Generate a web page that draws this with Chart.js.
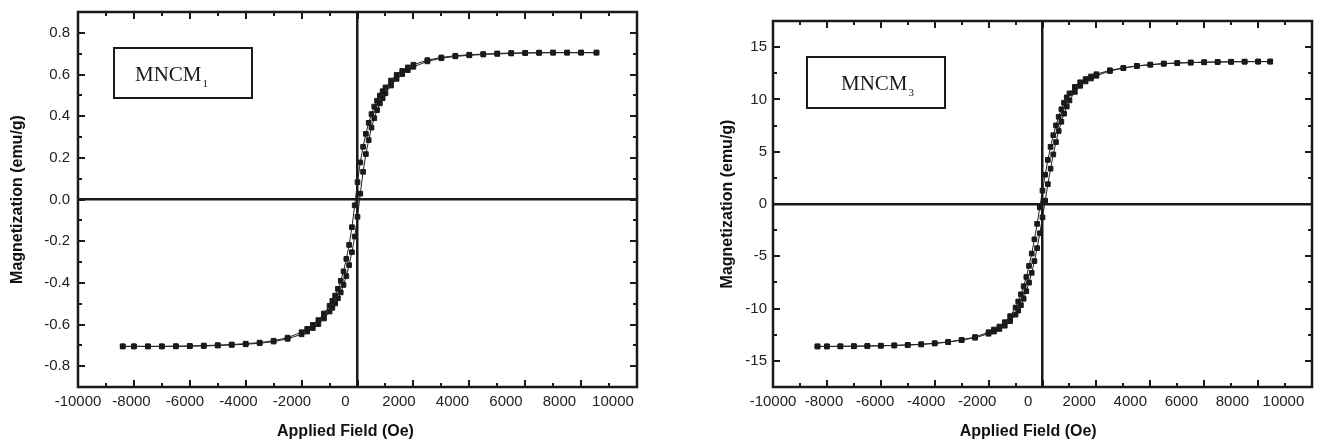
<!DOCTYPE html>
<html>
<head>
<meta charset="utf-8">
<script src="https://cdn.jsdelivr.net/npm/chart.js@4.4.1/dist/chart.umd.min.js"></script>
<style>
  html, body { margin: 0; padding: 0; background: #fff; }
  #wrap { position: relative; width: 1317px; height: 443px; }
  .box { position: absolute; top: 0; height: 443px; }
  #left { left: 0; width: 660px; }
  #right { left: 660px; width: 657px; }
</style>
</head>
<body>
<div id="wrap">
  <div class="box" id="left"><canvas id="chartLeft"></canvas></div>
  <div class="box" id="right"><canvas id="chartRight"></canvas></div>
</div>
<script>
// tick labels
const xLabels = [-10000, -8000, -6000, -4000, -2000, 0, 2000, 4000, 6000, 8000, 10000];
const yLabelsLeft = [-0.8, -0.6, -0.4, -0.2, 0, 0.2, 0.4, 0.6, 0.8];
const yLabelsRight = [-15, -10, -5, 0, 5, 10, 15];

// MNCM1 : applied field (Oe) and magnetization (emu/g) of both loop branches
const fieldLeft = [-8400, -8000, -7500, -7000, -6500, -6000, -5500, -5000, -4500, -4000, -3500, -3000, -2500, -2000,
  -1800, -1600, -1400, -1200,
  -1000, -900, -800, -700, -600, -500, -400, -300, -200, -100, 0, 100, 200, 300, 400, 500, 600, 700, 800, 900, 1000,
  1200, 1400, 1600, 1800,
  2000, 2500, 3000, 3500, 4000, 4500, 5000, 5500, 6000, 6500, 7000, 7500, 8000, 8550];
const descLeft = [-0.705, -0.705, -0.705, -0.705, -0.704, -0.703, -0.701, -0.699, -0.696, -0.692, -0.687, -0.678, -0.663, -0.637,
  -0.621, -0.602, -0.579, -0.547,
  -0.510, -0.486, -0.461, -0.429, -0.390, -0.345, -0.285, -0.218, -0.133, -0.028, 0.083, 0.178, 0.253, 0.315, 0.368, 0.410, 0.446, 0.474, 0.499, 0.520, 0.538,
  0.571, 0.598, 0.617, 0.634,
  0.647, 0.669, 0.682, 0.690, 0.695, 0.698, 0.701, 0.703, 0.704, 0.705, 0.705, 0.705, 0.705, 0.705];
const ascLeft = [-0.705, -0.705, -0.705, -0.705, -0.705, -0.704, -0.703, -0.701, -0.698, -0.695, -0.690, -0.682, -0.669, -0.647,
  -0.634, -0.617, -0.598, -0.571,
  -0.538, -0.520, -0.499, -0.474, -0.446, -0.410, -0.368, -0.315, -0.253, -0.178, -0.083, 0.028, 0.133, 0.218, 0.285, 0.345, 0.390, 0.429, 0.461, 0.486, 0.510,
  0.547, 0.579, 0.602, 0.621,
  0.637, 0.663, 0.678, 0.687, 0.692, 0.696, 0.699, 0.701, 0.703, 0.704, 0.705, 0.705, 0.705, 0.705];

// MNCM3
const fieldRight = [-8350, -8000, -7500, -7000, -6500, -6000, -5500, -5000, -4500, -4000, -3500, -3000, -2500, -2000,
  -1800, -1600, -1400, -1200,
  -1000, -900, -800, -700, -600, -500, -400, -300, -200, -100, 0, 100, 200, 300, 400, 500, 600, 700, 800, 900, 1000,
  1200, 1400, 1600, 1800,
  2000, 2500, 3000, 3500, 4000, 4500, 5000, 5500, 6000, 6500, 7000, 7500, 8000, 8450];
const descRight = [-13.62, -13.62, -13.61, -13.60, -13.58, -13.55, -13.52, -13.47, -13.41, -13.32, -13.19, -12.99, -12.72, -12.26,
  -12.00, -11.72, -11.30, -10.72,
  -9.90, -9.32, -8.64, -7.86, -6.98, -5.92, -4.74, -3.38, -1.90, -0.32, 1.28, 2.80, 4.22, 5.46, 6.58, 7.52, 8.34, 9.06, 9.68, 10.20, 10.58,
  11.20, 11.64, 11.95, 12.20,
  12.41, 12.79, 13.02, 13.21, 13.33, 13.43, 13.49, 13.53, 13.56, 13.58, 13.60, 13.61, 13.62, 13.62];
const ascRight = [-13.62, -13.62, -13.61, -13.60, -13.58, -13.56, -13.53, -13.49, -13.43, -13.33, -13.21, -13.02, -12.79, -12.41,
  -12.20, -11.95, -11.64, -11.20,
  -10.58, -10.20, -9.68, -9.06, -8.34, -7.52, -6.58, -5.46, -4.22, -2.80, -1.28, 0.32, 1.90, 3.38, 4.74, 5.92, 6.98, 7.86, 8.64, 9.32, 9.90,
  10.72, 11.30, 11.72, 12.00,
  12.26, 12.72, 12.99, 13.19, 13.32, 13.41, 13.47, 13.52, 13.55, 13.58, 13.60, 13.61, 13.62, 13.62];

const FONT = "'Liberation Sans', Arial, sans-serif";
Chart.defaults.font.family = FONT;
Chart.defaults.color = '#222';

const INK = '#1a1a1a';

// frame, inward tick marks on all four sides, x labels/title and the sample label box
const frameTicks = {
  id: 'frameTicks',
  afterDatasetsDraw(chart, args, opts) {
    const { ctx, chartArea: a, scales: { x, y } } = chart;
    ctx.save();
    ctx.strokeStyle = INK;
    ctx.lineWidth = 2;
    ctx.beginPath();
    x.ticks.forEach(t => {
      const px = Math.round(x.getPixelForValue(t.value));
      const len = opts.xMajor(t.value) ? 7 : 4;
      ctx.moveTo(px, a.bottom); ctx.lineTo(px, a.bottom - len);
      ctx.moveTo(px, a.top); ctx.lineTo(px, a.top + len);
    });
    y.ticks.forEach(t => {
      const py = Math.round(y.getPixelForValue(t.value));
      const len = opts.yMajor(t.value) ? 7 : 4;
      ctx.moveTo(a.left, py); ctx.lineTo(a.left + len, py);
      ctx.moveTo(a.right, py); ctx.lineTo(a.right - len, py);
    });
    ctx.stroke();
    ctx.lineWidth = 2.5;
    ctx.strokeRect(a.left, a.top, a.right - a.left, a.bottom - a.top);

    // x tick labels: the original figure sets them on a slightly narrower row than the ticks
    const k = opts.labelSpread;
    const labelX = v => a.left + (x.getPixelForValue(v) - a.left) * k;
    ctx.font = '15px ' + FONT;
    ctx.fillStyle = '#222';
    ctx.textAlign = 'center';
    ctx.textBaseline = 'middle';
    xLabels.forEach(v => ctx.fillText(String(v), labelX(v), a.bottom + 15));
    ctx.font = 'bold 16px ' + FONT;
    ctx.fillStyle = '#111';
    ctx.fillText('Applied Field (Oe)', (labelX(x.min) + labelX(x.max)) / 2, a.bottom + 45);

    // sample name box
    const b = opts.box;
    const bx = a.left + b.dx, by = a.top + b.dy;
    ctx.lineWidth = 2;
    ctx.strokeRect(bx, by, b.w, b.h);
    ctx.fillStyle = INK;
    ctx.textAlign = 'left';
    ctx.textBaseline = 'alphabetic';
    ctx.font = "21px 'Liberation Serif', 'Times New Roman', serif";
    ctx.fillText(opts.name, bx + b.tx, by + 33);
    const w = ctx.measureText(opts.name).width;
    ctx.font = "11px 'Liberation Serif', 'Times New Roman', serif";
    ctx.fillText(opts.sub, bx + b.tx + w + 1, by + 39);
    ctx.restore();
  }
};

const zeroLine = {
  drawTicks: false,
  lineWidth: 2.5,
  color: c => (c.tick && Math.abs(c.tick.value) < 1e-9) ? INK : 'rgba(0,0,0,0)'
};

// keep the plot box where the layout padding puts it
function noEdgePadding(s) {
  s.paddingLeft = 0; s.paddingRight = 0; s.paddingTop = 0; s.paddingBottom = 0;
}

function branch(field, m) {
  return {
    data: field.map((h, i) => ({ x: h, y: m[i] })),
    showLine: true,
    borderColor: '#222',
    borderWidth: 1,
    pointStyle: 'rect',
    pointRadius: 3.3,
    pointBackgroundColor: INK,
    pointBorderColor: INK,
    pointBorderWidth: 1,
    tension: 0
  };
}

function makeChart(id, cfg) {
  return new Chart(document.getElementById(id), {
    type: 'scatter',
    data: { datasets: [branch(cfg.field, cfg.desc), branch(cfg.field, cfg.asc)] },
    options: {
      responsive: true,
      maintainAspectRatio: false,
      animation: false,
      layout: { padding: cfg.padding },
      plugins: {
        legend: { display: false },
        tooltip: { enabled: false },
        frameTicks: {
          name: 'MNCM', sub: cfg.sub, box: cfg.box, labelSpread: cfg.labelSpread,
          xMajor: v => Math.round(v / 1000) % 2 === 0,
          yMajor: cfg.yMajor
        }
      },
      scales: {
        x: {
          type: 'linear', min: -10000, max: 10000,
          border: { display: false },
          grid: zeroLine,
          ticks: { display: false, stepSize: 1000, autoSkip: false },
          afterFit: s => { s.height = 56; noEdgePadding(s); }
        },
        y: {
          type: 'linear', min: cfg.yMin, max: cfg.yMax,
          border: { display: false },
          grid: zeroLine,
          ticks: {
            stepSize: cfg.yStep, autoSkip: false, padding: cfg.yPad,
            font: { size: 15 }, color: '#222',
            callback: cfg.yLabel
          },
          title: {
            display: true, text: 'Magnetization (emu/g)', color: '#111',
            font: { size: 16, weight: 'bold' }, padding: { top: cfg.titlePad, bottom: 0 }
          },
          afterFit: s => { s.width = cfg.yWidth; noEdgePadding(s); }
        }
      }
    },
    plugins: [frameTicks]
  });
}

makeChart('chartLeft', {
  field: fieldLeft, desc: descLeft, asc: ascLeft, sub: '1',
  padding: { left: 0, right: 23, top: 12, bottom: 0 },
  yMin: -0.9, yMax: 0.9, yStep: 0.1, yPad: 8, yWidth: 78, titlePad: 8.4,
  yMajor: v => Math.round(v * 10) % 2 === 0,
  yLabel: v => { const r = Math.round(v * 10) / 10; return yLabelsLeft.includes(r) ? r.toFixed(1) : ''; },
  labelSpread: 0.957,
  box: { dx: 36, dy: 36, w: 138, h: 50, tx: 21 }
});

makeChart('chartRight', {
  field: fieldRight, desc: descRight, asc: ascRight, sub: '3',
  padding: { left: 0, right: 1, top: 21, bottom: 0 },
  yMin: -17.5, yMax: 17.5, yStep: 2.5, yPad: 6, yWidth: 113, titlePad: 58.4,
  yMajor: v => Math.round(v / 2.5) % 2 === 0,
  yLabel: v => yLabelsRight.includes(v) ? String(v) : '',
  labelSpread: 0.947,
  box: { dx: 34, dy: 36, w: 138, h: 51, tx: 34 }
});
</script>
</body>
</html>
